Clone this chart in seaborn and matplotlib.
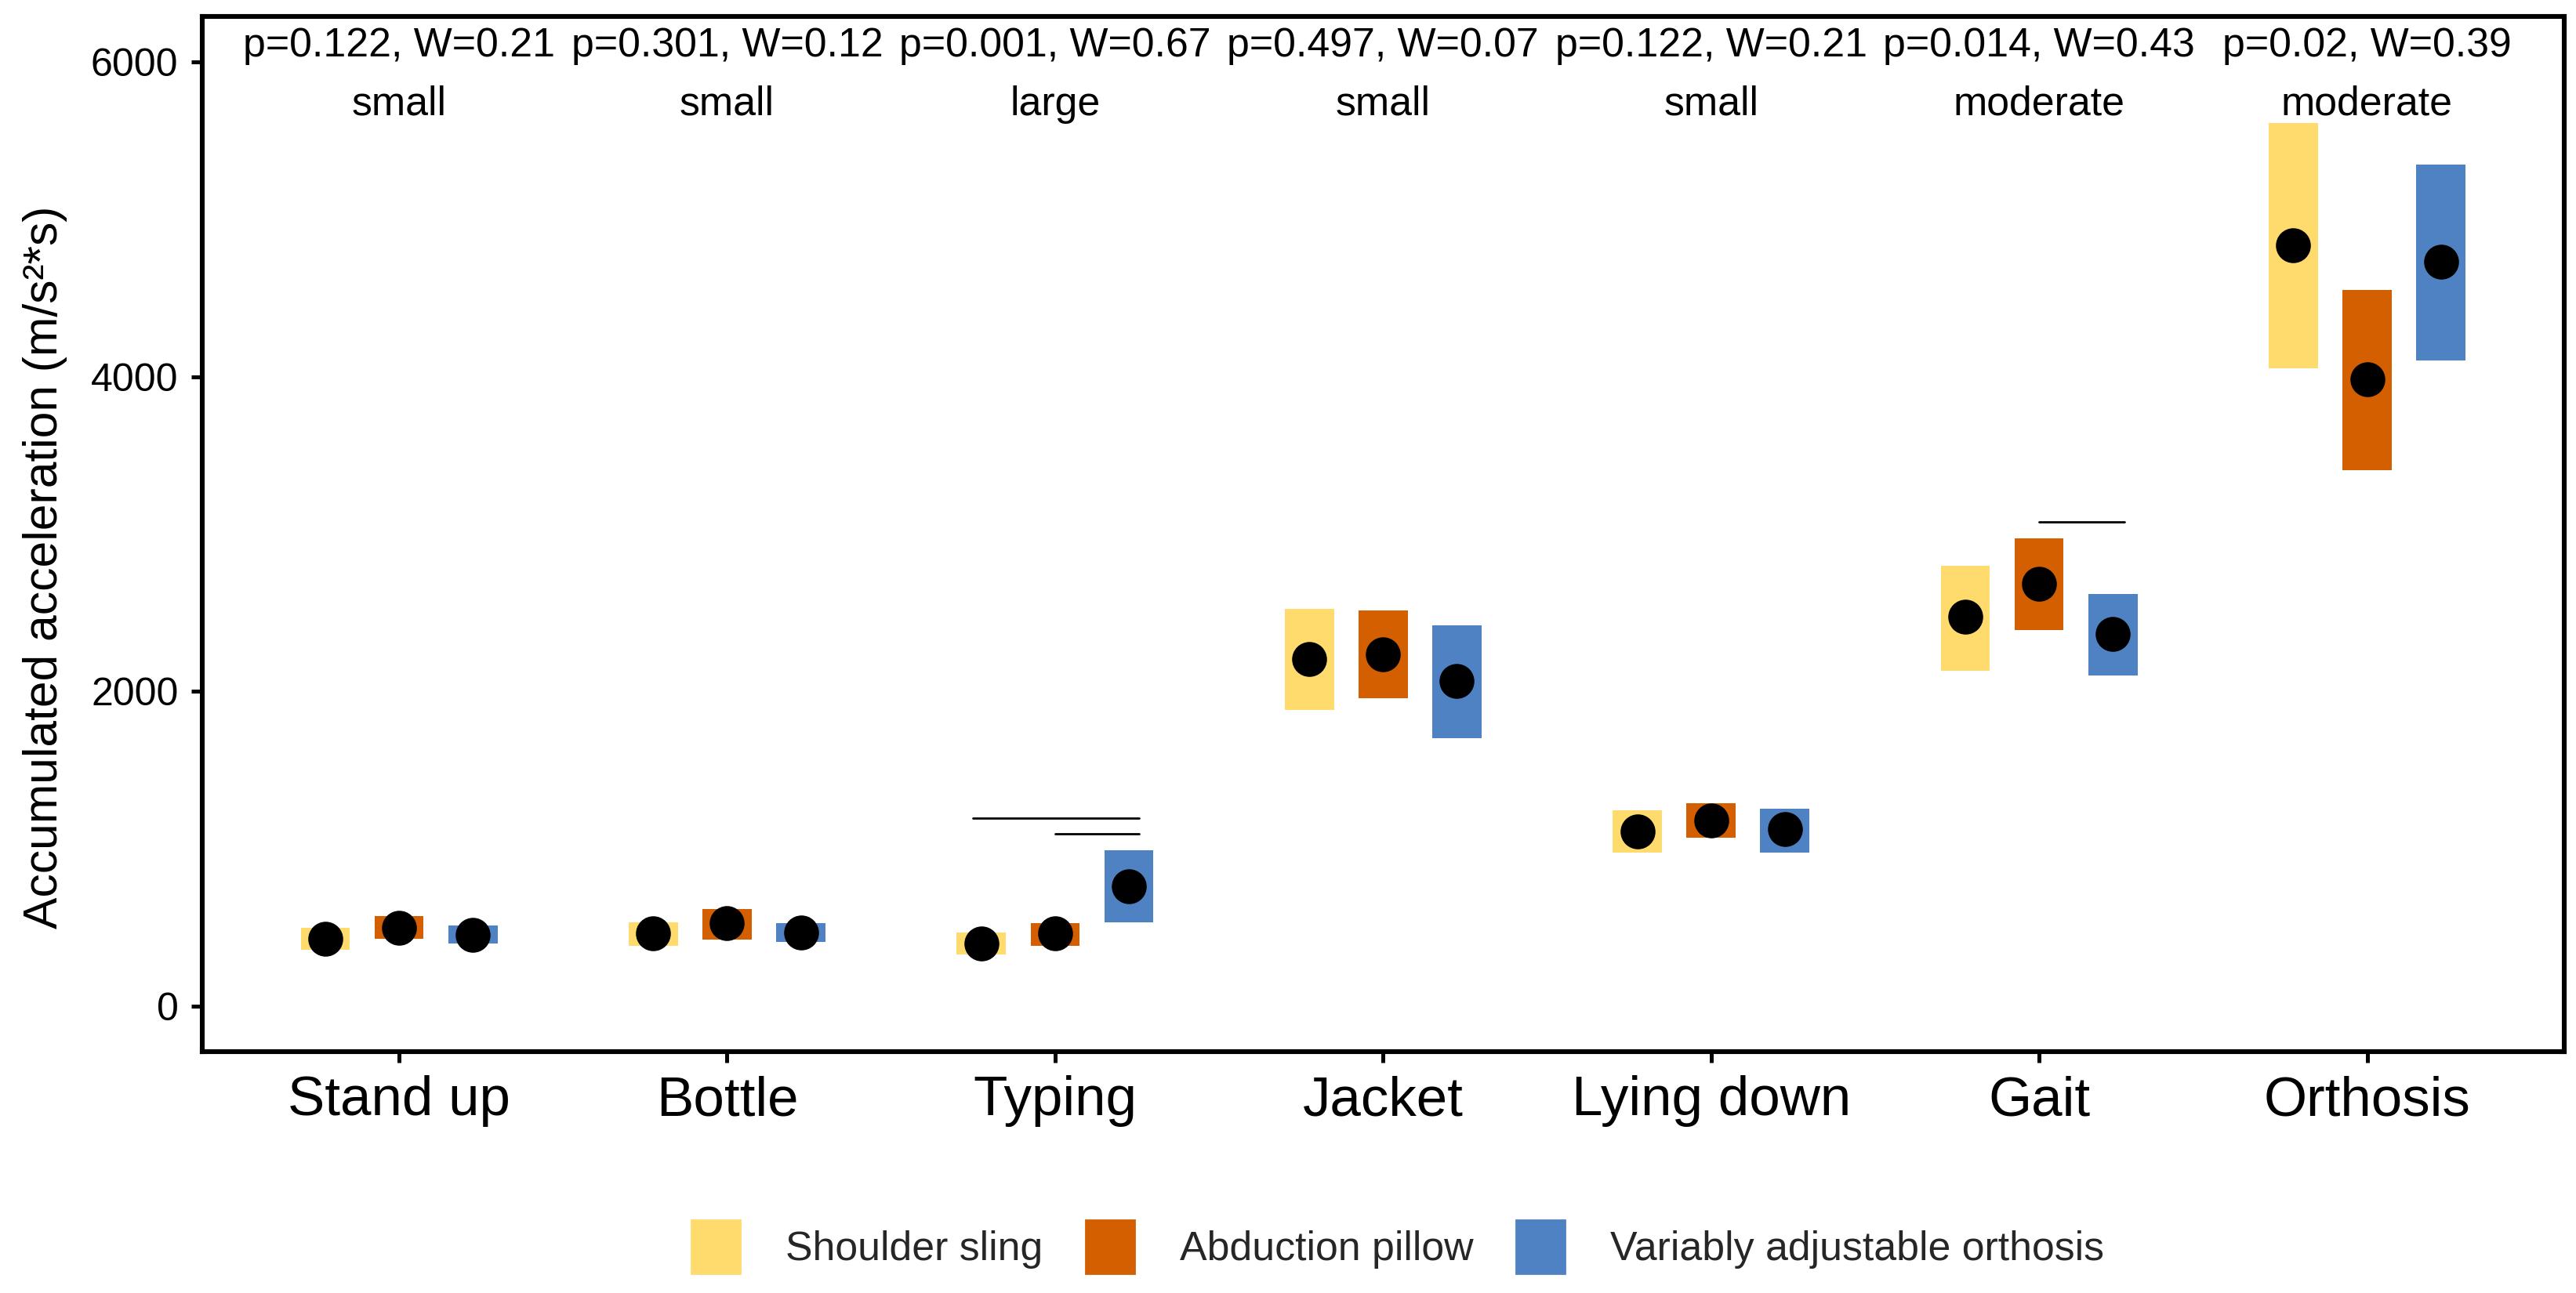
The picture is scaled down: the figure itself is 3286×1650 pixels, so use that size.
import numpy as np
import pandas as pd
import matplotlib
matplotlib.use('Agg')
import matplotlib.pyplot as plt
import matplotlib.patches as mpatches
import seaborn as sns

# ── data ─────────────────────────────────────────────────────
tasks   = ['Stand up', 'Bottle', 'Typing', 'Jacket', 'Lying down', 'Gait', 'Orthosis']
devices = ['Shoulder sling', 'Abduction pillow', 'Variably adjustable orthosis']

sling_mid   = [427, 465, 397, 2203, 1111, 2473, 4833]
sling_lo    = [359, 382, 327, 1882,  977, 2131, 4053]
sling_hi    = [498, 534, 466, 2526, 1243, 2800, 5613]

pillow_mid  = [498, 529, 463, 2235, 1178, 2681, 3982]
pillow_lo   = [427, 425, 382, 1957, 1069, 2390, 3406]
pillow_hi   = [571, 617, 526, 2513, 1290, 2974, 4550]

orth_mid    = [455, 468, 764, 2064, 1124, 2365, 4728]
orth_lo     = [398, 410, 531, 1701,  977, 2102, 4103]
orth_hi     = [513, 526, 991, 2421, 1256, 2620, 5348]

p_text = ['p=0.122, W=0.21', 'p=0.301, W=0.12', 'p=0.001, W=0.67', 'p=0.497, W=0.07',
          'p=0.122, W=0.21', 'p=0.014, W=0.43', 'p=0.02, W=0.39']
effect = ['small', 'small', 'large', 'small', 'small', 'moderate', 'moderate']

# significance brackets: task, start/end offset within the group, height
sig_task = ['Typing', 'Typing', 'Gait']
sig_x0   = [-0.25, 0.0, 0.0]
sig_x1   = [0.255, 0.255, 0.26]
sig_y    = [1193, 1094, 3077]

COLORS = ['#FFDA6C', '#D35F00', '#4F82C3']
FONT = ['Liberation Sans', 'DejaVu Sans']

sns.set_style('white')
plt.rcParams['font.family'] = FONT

df = pd.DataFrame({
    'task':   np.tile(tasks, 3),
    'device': np.repeat(devices, len(tasks)),
    'mid':    sling_mid + pillow_mid + orth_mid,
    'lo':     sling_lo + pillow_lo + orth_lo,
    'hi':     sling_hi + pillow_hi + orth_hi,
})

fig = plt.figure(figsize=(16.435, 8.25), dpi=200)
ax = fig.add_axes([0.0785, 0.1869, 0.995 - 0.0785, 0.9875 - 0.1869])

dodge = 0.45
offsets = np.linspace(-dodge / 2, dodge / 2, len(devices))
xpos = np.arange(len(tasks))

# range rectangles
for dev, off, col in zip(devices, offsets, COLORS):
    d = df[df['device'] == dev].set_index('task').loc[tasks]
    ax.bar(xpos + off, d['hi'] - d['lo'], bottom=d['lo'], width=0.15,
           color=col, linewidth=0, zorder=1)

# central points
sns.pointplot(data=df, x='task', y='mid', hue='device', order=tasks, hue_order=devices,
              palette=['black'] * 3, dodge=dodge, linestyle='none', markers='o',
              markersize=14, errorbar=None, legend=False, ax=ax, zorder=3)

# significance lines
for t, a, b, y in zip(sig_task, sig_x0, sig_x1, sig_y):
    i = tasks.index(t)
    ax.plot([i + a, i + b], [y, y], color='black', lw=1.0, zorder=2)

# p-values and effect sizes
for i, (pt, ef) in enumerate(zip(p_text, effect)):
    ax.text(i, 6034, pt, ha='center', va='baseline', fontsize=18.7, color='black')
    ax.text(i, 5663, ef, ha='center', va='baseline', fontsize=18.7, color='black')

ax.set_xlim(-0.6, 6.6)
ax.set_ylim(-287, 6290)
ax.set_yticks([0, 2000, 4000, 6000])
ax.set_xticks(xpos)
ax.set_xticklabels(tasks)
ax.tick_params(axis='y', labelsize=18, length=5, width=1.8, pad=6, colors='black', left=True)
ax.tick_params(axis='x', labelsize=25.5, length=5, width=1.8, pad=6, colors='black', bottom=True)
ax.set_xlabel('')
ax.set_ylabel('Accumulated acceleration (m/s²*s)', fontsize=21.8, color='black')
ax.yaxis.set_label_coords(-0.057, 0.468)
for s in ax.spines.values():
    s.set_visible(True)
    s.set_color('black')
    s.set_linewidth(2.2)
ax.grid(False)

handles = [mpatches.Patch(color=c, label=d) for c, d in zip(COLORS, devices)]
fig.legend(handles=handles, loc='center', bbox_to_anchor=(0.5425, 0.0358), ncol=3,
           frameon=False, fontsize=18.7, handlelength=1.19, handleheight=1.63,
           handletextpad=1.13, columnspacing=1.04)

fig.savefig('out.png', dpi=200)
